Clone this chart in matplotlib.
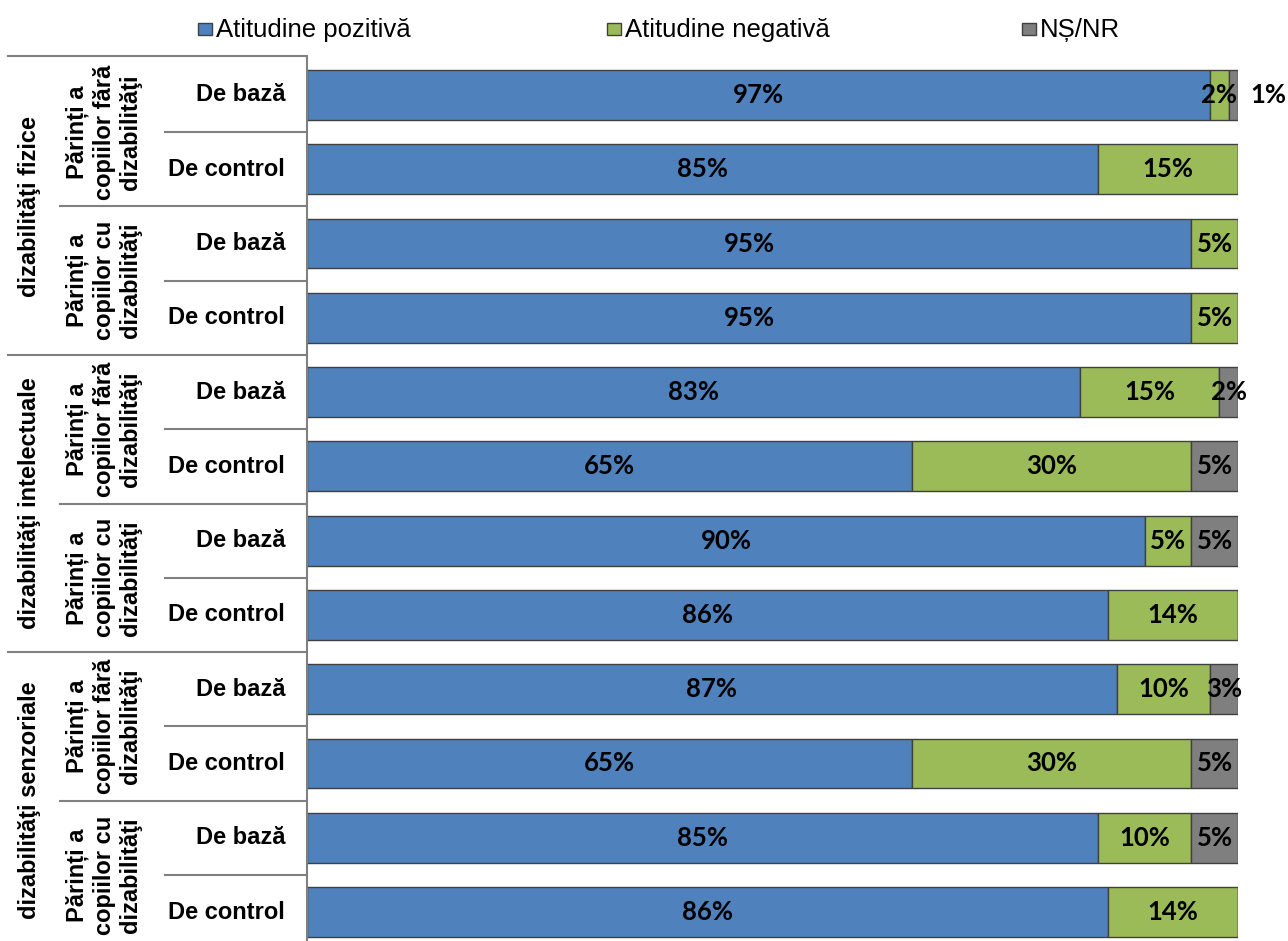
import matplotlib.pyplot as plt
from matplotlib.patches import Rectangle
from matplotlib.transforms import blended_transform_factory
import numpy as np

plt.rcParams['font.family'] = ['Liberation Sans', 'DejaVu Sans']

# date
serii = ['Atitudine pozitivă', 'Atitudine negativă', 'NȘ/NR']
culori = ['#4F81BD', '#9BBB59', '#7F7F7F']
pozitiv = [97, 85, 95, 95, 83, 65, 90, 86, 87, 65, 85, 86]
negativ = [2, 15, 5, 5, 15, 30, 5, 14, 10, 30, 10, 14]
nsnr = [1, 0, 0, 0, 2, 5, 5, 0, 3, 5, 5, 0]
randuri = ['De bază', 'De control'] * 6
subgrupe = ['Părinți a\ncopiilor fără\ndizabilităţi', 'Părinți a\ncopiilor cu\ndizabilităţi'] * 3
grupe = ['dizabilităţi fizice', 'dizabilităţi intelectuale', 'dizabilităţi senzoriale']

W, H = 1288, 941
fig = plt.figure(figsize=(W / 100, H / 100), dpi=100)
ax = fig.add_axes([307 / W, 0, 931 / W, 1 - 56 / H])

y = np.arange(len(pozitiv))
valori = [np.array(pozitiv), np.array(negativ), np.array(nsnr)]
stanga = np.zeros(len(y))
for v, c, nume in zip(valori, culori, serii):
    ax.barh(y, v, left=stanga, height=0.67, color=c, edgecolor='#404040', linewidth=1, label=nume)
    for i in range(len(y)):
        if v[i] == 0:
            continue
        xt = stanga[i] + v[i] / 2
        if v[i] < 2 and nume == 'NȘ/NR':
            xt = 100 + 3.3  # eticheta mica pusa in afara barei
        ax.text(xt, y[i], f'{v[i]}%', ha='center', va='center', fontsize=18.5,
                fontweight='bold', family=['Lato', 'DejaVu Sans'], color='black', clip_on=False)
    stanga = stanga + v

ax.set_xlim(0, 100)
ax.set_ylim(11.39, -0.525)
ax.set_xticks([])
ax.set_yticks([])
for s in ['top', 'right', 'bottom']:
    ax.spines[s].set_visible(False)
ax.spines['left'].set_color('#808080')
ax.spines['left'].set_linewidth(1.5)

# tabelul de etichete din stanga (x in pixeli figura, y in date)
tr = blended_transform_factory(fig.transFigure, ax.transData)
def px(x):
    return x / W

linie = dict(color='#808080', linewidth=1.5, transform=tr, clip_on=False)
ax.plot([px(8), px(305)], [-0.525, -0.525], **linie)
for i in range(len(y) - 1):
    yy = i + 0.5
    if i % 4 == 3:
        x0 = 8
    elif i % 2 == 1:
        x0 = 60
    else:
        x0 = 165
    ax.plot([px(x0), px(305)], [yy, yy], **linie)

for i, r in enumerate(randuri):
    ax.text(px(285), i, r, ha='right', va='center', fontsize=17, fontweight='bold', transform=tr)
for k, s in enumerate(subgrupe):
    ax.text(px(104), 2 * k + 0.5, s, ha='center', va='center', rotation=90, fontsize=17,
            fontweight='bold', linespacing=1.2, transform=tr)
for k, g in enumerate(grupe):
    ax.text(px(30), 4 * k + 1.5, g, ha='center', va='center', rotation=90, fontsize=17,
            fontweight='bold', transform=tr)

# legenda
for xl, nume, c in zip([198, 607, 1022], serii, culori):
    fig.patches.append(Rectangle((xl / W, 1 - 35 / H), 14 / W, 12 / H, transform=fig.transFigure,
                                 facecolor=c, edgecolor='#404040', linewidth=1))
    fig.text((xl + 18) / W, 1 - 30 / H, nume, ha='left', va='center', fontsize=18.5)

fig.savefig('out.png', dpi=100)
